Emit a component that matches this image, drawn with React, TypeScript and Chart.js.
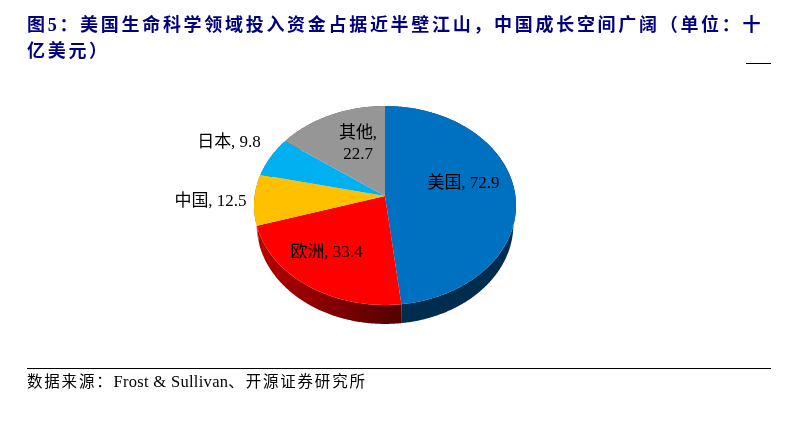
import React, { useEffect, useRef } from "react";
import { Chart, registerables } from "chart.js";

Chart.register(...registerables);

const categories = ["美国", "欧洲", "中国", "日本", "其他"];
const values = [72.9, 33.4, 12.5, 9.8, 22.7];
const topColors = ["#0070C0", "#FF0000", "#FFC000", "#00B0F0", "#969696"];
const sideColors = ["#002C4E", "", "#8a6800", "#005f82", "#505050"];
const labelAnchors = [
  [463.5, 182],
  [326.5, 251],
  [210.5, 200],
  [229, 141],
  [358, 143],
];
const titleLine1 = "图5\uFF1A美国生命科学领域投入资金占据近半壁江山\uFF0C中国成长空间广阔\uFF08单位\uFF1A十";
const titleLine2 = "亿美元\uFF09";
const sourcePrefix = "数据来源\uFF1A";
const sourceName = "Frost & Sullivan";
const sourceSuffix = "\u3001开源证券研究所";

const SERIF = '"Liberation Serif", "Noto Sans CJK SC", serif';
const PERSPECTIVE = 0.0955;
const X_SCALE = 1.003;
const Y_SCALE = 0.758;
const DEPTH = 19;
const DEPTH_SHRINK = 0.98;

const project = (el: any, angle: number) => {
  const u = Math.cos(angle);
  const v = Math.sin(angle);
  const w = 1 - PERSPECTIVE * v;
  return [
    el.x + (el.outerRadius * X_SCALE * u) / w,
    el.y + (el.outerRadius * Y_SCALE * v) / w,
  ];
};

const arcPoints = (el: any) => {
  const pts: number[][] = [];
  const n = Math.max(8, Math.ceil((el.endAngle - el.startAngle) / 0.01));
  for (let i = 0; i <= n; i++) {
    pts.push(project(el, el.startAngle + ((el.endAngle - el.startAngle) * i) / n));
  }
  return pts;
};

const perspectivePie = {
  id: "perspectivePie",
  beforeDatasetDraw(chart: any) {
    const ctx = chart.ctx as CanvasRenderingContext2D;
    const arcs = chart.getDatasetMeta(0).data;
    ctx.save();
    arcs.forEach((el: any, i: number) => {
      const pts = arcPoints(el);
      const cx = el.x;
      ctx.beginPath();
      pts.forEach(([x, y], k) => (k ? ctx.lineTo(x, y) : ctx.moveTo(x, y)));
      for (let k = pts.length - 1; k >= 0; k--) {
        ctx.lineTo(cx + (pts[k][0] - cx) * DEPTH_SHRINK, pts[k][1] + DEPTH);
      }
      ctx.closePath();
      if (sideColors[i]) {
        ctx.fillStyle = sideColors[i];
      } else {
        const g = ctx.createLinearGradient(257, 0, 401, 0);
        g.addColorStop(0, "#B80000");
        g.addColorStop(1, "#520000");
        ctx.fillStyle = g;
      }
      ctx.fill();
    });
    arcs.forEach((el: any, i: number) => {
      const pts = arcPoints(el);
      ctx.beginPath();
      ctx.moveTo(el.x, el.y);
      pts.forEach(([x, y]) => ctx.lineTo(x, y));
      ctx.closePath();
      ctx.fillStyle = topColors[i];
      ctx.fill();
    });
    ctx.restore();
    return false;
  },
  afterDatasetsDraw(chart: any) {
    const ctx = chart.ctx as CanvasRenderingContext2D;
    ctx.save();
    ctx.fillStyle = "#000";
    ctx.font = `17px ${SERIF}`;
    ctx.textAlign = "center";
    ctx.textBaseline = "middle";
    categories.forEach((name, i) => {
      const [x, y] = labelAnchors[i];
      if (name === "其他") {
        ctx.fillText(`${name},`, x, y - 9);
        ctx.fillText(`${values[i]}`, x, y + 12);
      } else {
        ctx.fillText(`${name}, ${values[i]}`, x, y + 1.5);
      }
    });
    ctx.restore();
  },
};

const abs = (extra: React.CSSProperties): React.CSSProperties => ({
  position: "absolute",
  whiteSpace: "nowrap",
  ...extra,
});

export default function App() {
  const ref = useRef<HTMLCanvasElement | null>(null);
  useEffect(() => {
    document.body.style.margin = "0";
    document.body.style.background = "#fff";
    const chart = new Chart(ref.current as HTMLCanvasElement, {
      type: "pie",
      data: {
        labels: categories,
        datasets: [{ data: values, backgroundColor: topColors, borderWidth: 0 }],
      },
      options: {
        animation: false,
        responsive: false,
        layout: { padding: { left: 255, right: 279, top: 66, bottom: 98 } },
        plugins: { legend: { display: false }, tooltip: { enabled: false } },
      },
      plugins: [perspectivePie],
    } as any);
    return () => chart.destroy();
  }, []);

  const titleStyle: React.CSSProperties = {
    left: 27,
    fontFamily: SERIF,
    fontWeight: 700,
    fontSize: 18,
    letterSpacing: 2.7,
    color: "#000080",
    lineHeight: "22px",
  };
  return (
    <div lang="zh-CN" style={{ position: "relative", width: 794, height: 424, overflow: "hidden" }}>
      <canvas ref={ref} width={794} height={424} style={{ position: "absolute", left: 0, top: 0, width: 794, height: 424 }} />
      <div style={abs({ ...titleStyle, top: 14 })}>{titleLine1}</div>
      <div style={abs({ ...titleStyle, top: 40 })}>{titleLine2}</div>
      <div style={abs({ left: 746, top: 63, width: 25, height: 1, background: "#000" })} />
      <div style={abs({ left: 27, top: 368, width: 744, height: 1.3, background: "#000" })} />
      <div style={abs({ left: 27, top: 373, fontFamily: SERIF, fontSize: 15.5, letterSpacing: 1.8, color: "#000", lineHeight: "18px" })}>
        {sourcePrefix}
        <span style={{ fontSize: 16.5, letterSpacing: 0.3 }}>{sourceName}</span>
        {sourceSuffix}
      </div>
    </div>
  );
}
